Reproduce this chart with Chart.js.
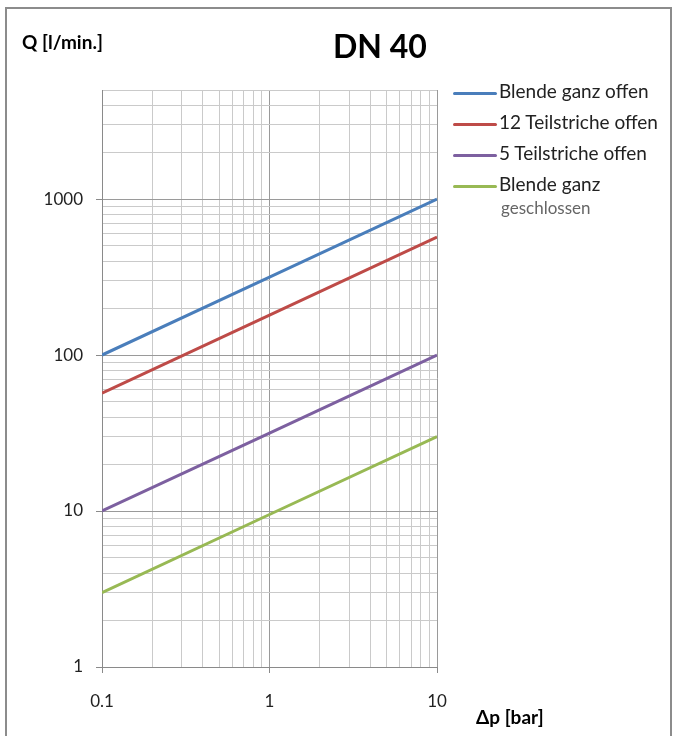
<!DOCTYPE html>
<html>
<head>
<meta charset="utf-8">
<script src="https://cdn.jsdelivr.net/npm/chart.js@4/dist/chart.umd.min.js"></script>
<style>
    body { margin: 0; background: #fff; }
    #wrap { position: relative; width: 673px; height: 736px; overflow: hidden; }
    #frame { position: absolute; left: 5px; top: 7px; width: 663px; height: 740px; border: 2px solid #8c8c8c; border-bottom: none; }
    canvas { position: absolute; left: 0; top: 0; }
    .lbl { position: absolute; font-family: Lato, "Open Sans", sans-serif; color: #000; white-space: nowrap; }
    #title { left: 333px; top: 26px; font-size: 32px; font-weight: bold; }
    #yname { left: 22px; top: 30px; font-size: 19px; font-weight: bold; }
    #xname { left: 476px; top: 705px; font-size: 19px; font-weight: bold; }
    .leg { position: absolute; left: 453px; font-family: Lato, "Open Sans", sans-serif; font-size: 19px; color: #222; white-space: nowrap; }
    .leg i { display: inline-block; width: 44px; height: 3px; vertical-align: middle; margin-right: 2px; border-radius: 2px; }
</style>
</head>
<body>
<div id="wrap">
    <div id="frame"></div>
    <canvas id="chart" width="673" height="736"></canvas>
    <div class="lbl" id="title">DN 40</div>
    <div class="lbl" id="yname">Q [l/min.]</div>
    <div class="lbl" id="xname">Δp [bar]</div>
    <div id="legend"></div>
</div>
<script>
const seriesNames = ['Blende ganz offen', '12 Teilstriche offen', '5 Teilstriche offen', 'Blende ganz geschlossen'];
const seriesColors = ['#4a7ebb', '#be4b48', '#7d60a0', '#98b954'];
const pressure = [0.1, 1, 10];
const flowOpen = [100, 316, 1000];
const flow12 = [57, 180, 570];
const flow5 = [10, 31.6, 100];
const flowClosed = [3, 9.5, 30];
const xTicks = [0.1, 0.2, 0.3, 0.4, 0.5, 0.6, 0.7, 0.8, 0.9, 1, 2, 3, 4, 5, 6, 7, 8, 9, 10];
const yTicks = [1, 2, 3, 4, 5, 6, 7, 8, 9, 10, 20, 30, 40, 50, 60, 70, 80, 90,
    100, 200, 300, 400, 500, 600, 700, 800, 900, 1000, 2000, 3000, 4000, 5000];
const xMajor = [0.1, 1, 10];
const yMajor = [1, 10, 100, 1000];

const allSeries = [flowOpen, flow12, flow5, flowClosed];

// Legende als HTML
const legendDiv = document.getElementById('legend');
const legendTops = [79, 110, 141, 172];
seriesNames.forEach((name, i) => {
    const item = document.createElement('div');
    item.className = 'leg';
    item.style.top = legendTops[i] + 'px';
    if (i === 3) {
        item.innerHTML = `<i style="background:${seriesColors[i]}"></i>Blende ganz<br><span style="margin-left:48px;color:#666;font-size:17px">geschlossen</span>`;
    } else {
        item.innerHTML = `<i style="background:${seriesColors[i]}"></i>${name}`;
    }
    legendDiv.appendChild(item);
});

function isMajor(list, v) {
    return list.some(m => Math.abs(m - v) < 1e-9);
}

const ctx = document.getElementById('chart').getContext('2d');
new Chart(ctx, {
    type: 'line',
    data: {
        datasets: allSeries.map((vals, i) => ({
            label: seriesNames[i],
            data: vals.map((v, j) => ({ x: pressure[j], y: v })),
            borderColor: seriesColors[i],
            borderWidth: 3,
            pointRadius: 0,
            fill: false
        }))
    },
    options: {
        responsive: false,
        animation: false,
        layout: { padding: { left: 0, right: 236, top: 90, bottom: 0 } },
        plugins: { legend: { display: false }, tooltip: { enabled: false } },
        scales: {
            x: {
                type: 'logarithmic',
                min: 0.1,
                max: 10,
                afterBuildTicks: scale => { scale.ticks = xTicks.map(v => ({ value: v })); },
                afterFit: scale => { scale.height = 69; },
                border: { color: '#8a8a8a', width: 1 },
                grid: {
                    color: c => isMajor(xMajor, c.tick.value) ? '#9a9a9a' : '#cacaca',
                    tickColor: c => isMajor(xMajor, c.tick.value) ? '#8a8a8a' : 'rgba(0,0,0,0)',
                    tickLength: 6
                },
                ticks: {
                    autoSkip: false,
                    maxRotation: 0,
                    padding: 18,
                    color: '#222',
                    font: { family: 'Lato', size: 17 },
                    callback: v => isMajor(xMajor, v) ? String(v) : ''
                }
            },
            y: {
                type: 'logarithmic',
                min: 1,
                max: 5000,
                afterBuildTicks: scale => { scale.ticks = yTicks.map(v => ({ value: v })); },
                afterFit: scale => { scale.width = 102; },
                border: { color: '#8a8a8a', width: 1 },
                grid: {
                    color: c => isMajor(yMajor, c.tick.value) ? '#9a9a9a' : '#cacaca',
                    tickColor: c => isMajor(yMajor, c.tick.value) ? '#8a8a8a' : 'rgba(0,0,0,0)',
                    tickLength: 6
                },
                ticks: {
                    autoSkip: false,
                    padding: 13,
                    color: '#222',
                    font: { family: 'Lato', size: 17 },
                    callback: v => isMajor(yMajor, v) ? String(v) : ''
                }
            }
        }
    }
});
</script>
</body>
</html>
